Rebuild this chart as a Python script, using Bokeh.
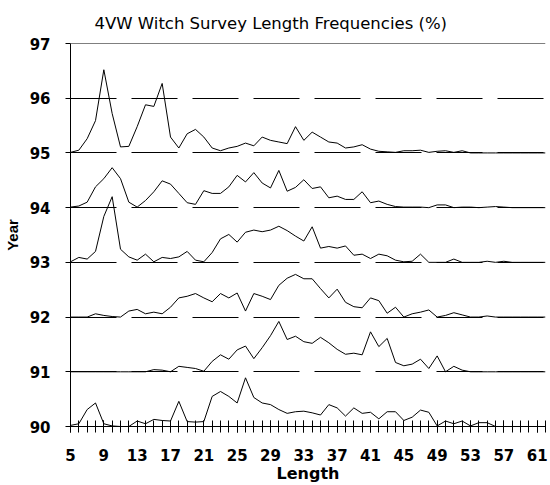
from bokeh.plotting import figure
from bokeh.models import Range1d, FixedTicker, Span
from bokeh.embed import file_html
from bokeh.resources import INLINE

title_text = "4VW Witch Survey Length Frequencies (%)"
lengths = list(range(5, 63))
x_label_ticks = list(range(5, 62, 4))
y_ticks = list(range(90, 98))
grid_years = [91, 92, 93, 94, 95, 96]
years = [90, 91, 92, 93, 94, 95]

freq_90 = [0.02, 0.05, 0.31, 0.43, 0.05, 0.01, 0, 0, 0.10, 0.05,
           0.13, 0.11, 0.10, 0.46, 0.09, 0.08, 0.09, 0.55, 0.64, 0.55,
           0.43, 0.89, 0.53, 0.43, 0.40, 0.31, 0.24, 0.27, 0.28, 0.25,
           0.21, 0.40, 0.34, 0.19, 0.34, 0.24, 0.26, 0.14, 0.27, 0.27,
           0.11, 0.17, 0.30, 0.26, 0.01, 0.10, 0.05, 0.10, 0.01, 0.07,
           0.07, 0, 0, 0, 0, 0, 0, 0]
freq_91 = [0, 0, 0, 0, 0, 0, 0, 0, 0, 0,
           0.04, 0.03, 0, 0.10, 0.08, 0.06, 0.01, 0.19, 0.31, 0.23,
           0.40, 0.47, 0.24, 0.44, 0.66, 0.92, 0.59, 0.65, 0.55, 0.52,
           0.63, 0.53, 0.41, 0.32, 0.34, 0.31, 0.73, 0.46, 0.61, 0.17,
           0.11, 0.14, 0.23, 0.06, 0.29, 0, 0.10, 0.03, 0, 0,
           0, 0, 0, 0, 0, 0, 0, 0]
freq_92 = [0, 0, 0, 0.06, 0.03, 0.01, 0, 0.11, 0.14, 0.06,
           0.09, 0.06, 0.18, 0.35, 0.38, 0.43, 0.35, 0.28, 0.43, 0.35,
           0.44, 0.11, 0.43, 0.38, 0.32, 0.58, 0.71, 0.78, 0.70, 0.70,
           0.52, 0.35, 0.51, 0.27, 0.19, 0.17, 0.35, 0.30, 0.07, 0.18,
           0, 0.06, 0.09, 0.13, 0, 0.03, 0.08, 0.04, 0, 0,
           0.02, 0, 0, 0, 0, 0, 0, 0]
freq_93 = [0.01, 0.09, 0.06, 0.20, 0.84, 1.20, 0.24, 0.10, 0.04, 0.15,
           0.01, 0.09, 0.07, 0.10, 0.20, 0.04, 0.01, 0.18, 0.43, 0.51,
           0.37, 0.55, 0.59, 0.56, 0.59, 0.66, 0.58, 0.48, 0.39, 0.65,
           0.26, 0.29, 0.26, 0.30, 0.13, 0.15, 0.07, 0.15, 0.12, 0.04,
           0.01, 0.02, 0.15, 0, 0, 0, 0.06, 0, 0, 0,
           0.02, 0, 0.02, 0, 0, 0, 0, 0]
freq_94 = [0.01, 0.03, 0.10, 0.38, 0.53, 0.73, 0.53, 0.10, 0.01, 0.13,
           0.29, 0.49, 0.43, 0.26, 0.09, 0.06, 0.31, 0.26, 0.26, 0.38,
           0.59, 0.47, 0.64, 0.45, 0.36, 0.68, 0.30, 0.37, 0.51, 0.35,
           0.38, 0.18, 0.21, 0.15, 0.15, 0.29, 0.09, 0.12, 0.06, 0.02,
           0.01, 0.01, 0.01, 0, 0.05, 0.05, 0, 0.01, 0.01, 0,
           0.01, 0.02, 0.01, 0, 0, 0, 0, 0]
freq_95 = [0.01, 0.05, 0.26, 0.59, 1.52, 0.72, 0.11, 0.12, 0.48, 0.88,
           0.85, 1.27, 0.29, 0.09, 0.35, 0.43, 0.29, 0.09, 0.04, 0.09,
           0.12, 0.18, 0.13, 0.29, 0.23, 0.20, 0.17, 0.48, 0.23, 0.38,
           0.29, 0.20, 0.18, 0.09, 0.11, 0.15, 0.07, 0.03, 0.02, 0.01,
           0.04, 0.04, 0.05, 0.01, 0.03, 0.04, 0.01, 0.04, 0, 0,
           0, 0, 0, 0, 0, 0, 0, 0]
series = [freq_90, freq_91, freq_92, freq_93, freq_94, freq_95]

p = figure(width=550, height=485, x_range=Range1d(5, 62), y_range=Range1d(90, 97),
           output_backend="svg", toolbar_location=None,
           min_border_left=70, min_border_right=5, min_border_top=43, min_border_bottom=59)

p.title.text = title_text
p.title.align = "left"
p.title.offset = 24
p.title.text_font = "DejaVu Sans"
p.title.text_font_size = "16.5px"
p.title.text_font_style = "normal"
p.title.text_color = "black"
p.title.standoff = 22

p.outline_line_color = None
p.background_fill_color = "white"
p.border_fill_color = "white"

p.xgrid.visible = False
p.ygrid.ticker = FixedTicker(ticks=grid_years)
p.ygrid.grid_line_color = "black"
p.ygrid.grid_line_dash = "46 15"
p.ygrid.grid_line_width = 1

p.add_layout(Span(location=97, dimension="width", line_color="black", line_width=1))

for yr, fr in zip(years, series):
    p.line(lengths, [yr + v for v in fr], line_color="black", line_width=1)

xa = p.xaxis[0]
xa.ticker = FixedTicker(ticks=x_label_ticks, minor_ticks=lengths)
xa.major_tick_in = 6
xa.major_tick_out = 6
xa.minor_tick_in = 6
xa.minor_tick_out = 6
xa.major_tick_line_color = "black"
xa.minor_tick_line_color = "black"
xa.axis_line_color = "black"
xa.major_label_text_font = "DejaVu Sans"
xa.major_label_text_font_style = "bold"
xa.major_label_text_font_size = "15px"
xa.major_label_text_color = "black"
xa.major_label_standoff = 16
xa.axis_label = "Length"
xa.axis_label_text_font = "DejaVu Sans"
xa.axis_label_text_font_style = "bold"
xa.axis_label_text_font_size = "16px"
xa.axis_label_text_color = "black"
xa.axis_label_standoff = 0

ya = p.yaxis[0]
ya.ticker = FixedTicker(ticks=y_ticks, minor_ticks=[])
ya.major_tick_in = 0
ya.major_tick_out = 5
ya.minor_tick_line_color = None
ya.major_tick_line_color = "black"
ya.axis_line_color = "black"
ya.major_label_text_font = "DejaVu Sans"
ya.major_label_text_font_style = "bold"
ya.major_label_text_font_size = "15px"
ya.major_label_text_color = "black"
ya.major_label_standoff = 15
ya.axis_label = "Year"
ya.axis_label_text_font = "Liberation Sans"
ya.axis_label_text_font_style = "bold"
ya.axis_label_text_font_size = "15px"
ya.axis_label_text_color = "black"
ya.axis_label_standoff = 6

open("out.html", "w").write(file_html(p, INLINE))
